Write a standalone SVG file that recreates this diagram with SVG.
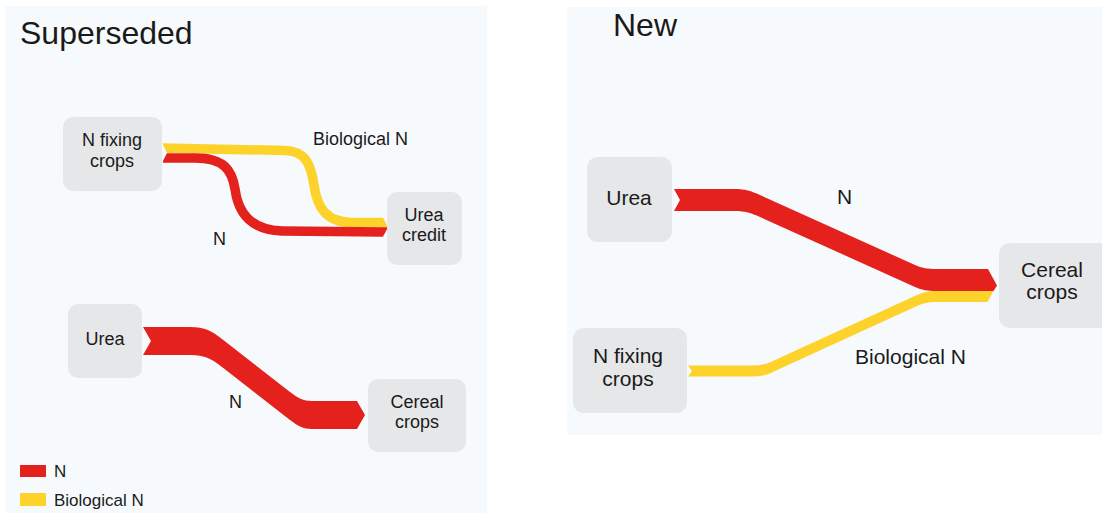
<svg xmlns="http://www.w3.org/2000/svg" width="1102" height="516" viewBox="0 0 1102 516">
<style>
.panel{fill:#f7fafc}
.node{fill:#e6e7e8}
.t{font-family:"Liberation Sans",Arial,sans-serif;fill:#1a1a1a}
.s{font-size:18px}
.m{font-size:21px}
.title{font-size:32px}
.red{fill:#e4211d}
.yel{fill:#fdd22b}
.rs{fill:none;stroke:#e4211d;stroke-width:9.5}
.ys{fill:none;stroke:#fdd22b;stroke-width:9.5}
.bg{fill:#f7fafc}
</style>
<rect width="1102" height="516" fill="#ffffff"/>
<rect class="panel" x="5" y="6" width="482" height="507"/>
<rect class="panel" x="567" y="7" width="535" height="428"/>
<text class="t title" x="20" y="44">Superseded</text>
<text class="t title" x="613" y="36">New</text>

<g id="connectors">
  <!-- left top -->
  <path class="ys" d="M163,148 L285,150.5 C306,151 311,165 314,185 C317,207 326,222.5 352,222.5 L383,222.5"/>
  <path class="rs" d="M163,158 L195,158 C224,158 232,170 235,189 C238,212 250,230 282,231 L383,232"/>
  <polygon class="bg" points="162,143 167,153 162,163"/>
  <polygon class="yel" points="383,217.8 388,227.3 383,227.3"/>
  <polygon class="red" points="383,227.3 388,227.3 383,236.8"/>
  <!-- left bottom -->
  <path class="red" d="M143,327 H190 C205,327 212,331 222,339 L290,392 C298,398 303,401 312,401 H357 L365,415 L357,429 H312 C303,429 298,426 290,420 L222,367 C212,359 205,355 190,355 H143 L151,341 Z"/>
  <!-- right -->
  <path class="red" d="M674,189 H735 C745,189 751,191 760,195 L915,265 C922,268 927,269 937,269 H988 L997,285.5 L993.5,291 H937 C927,291 922,290 915,287 L760,217 C751,213 745,211 735,211 H674 L680,200 Z"/>
  <path class="yel" d="M688,365.5 H752 C762,365.5 767,364 775,360 L917,295 C924,292 928,291 937,291 H993.5 L987.5,302 H937 C928,302 924,303 917,306 L775,371 C767,375 762,376.5 752,376.5 H688 L692,371 Z"/>
</g>

<g id="labels">
  <text class="t s" x="313" y="145">Biological N</text>
  <text class="t s" x="213" y="245">N</text>
  <text class="t s" x="229" y="408">N</text>
  <text class="t m" x="837" y="204">N</text>
  <text class="t m" x="855" y="364">Biological N</text>
</g>

<g id="node-nfix-old">
  <rect class="node" x="63" y="117" width="99" height="74" rx="10"/>
  <text class="t s" x="112" y="146" text-anchor="middle">N fixing</text>
  <text class="t s" x="112" y="167" text-anchor="middle">crops</text>
</g>
<g id="node-ureacredit">
  <rect class="node" x="387" y="192" width="75" height="73" rx="10"/>
  <text class="t s" x="424" y="221" text-anchor="middle">Urea</text>
  <text class="t s" x="424" y="241" text-anchor="middle">credit</text>
</g>
<g id="node-urea-old">
  <rect class="node" x="68" y="304" width="74" height="74" rx="10"/>
  <text class="t s" x="105" y="345" text-anchor="middle">Urea</text>
</g>
<g id="node-cereal-old">
  <rect class="node" x="368" y="379" width="98" height="73" rx="10"/>
  <text class="t s" x="417" y="408" text-anchor="middle">Cereal</text>
  <text class="t s" x="417" y="428" text-anchor="middle">crops</text>
</g>
<g id="node-urea-new">
  <rect class="node" x="587" y="157" width="85" height="85" rx="11"/>
  <text class="t m" x="629" y="205" text-anchor="middle">Urea</text>
</g>
<g id="node-nfix-new">
  <rect class="node" x="573" y="328" width="114" height="85" rx="11"/>
  <text class="t m" x="628" y="363" text-anchor="middle">N fixing</text>
  <text class="t m" x="628" y="386" text-anchor="middle">crops</text>
</g>
<g id="node-cereal-new">
  <rect class="node" x="999" y="243" width="120" height="85" rx="11"/>
  <text class="t m" x="1052" y="277" text-anchor="middle">Cereal</text>
  <text class="t m" x="1052" y="299" text-anchor="middle">crops</text>
</g>

<g id="legend">
  <rect class="red" x="20" y="465" width="26" height="12"/>
  <text class="t" font-size="17" x="54" y="477">N</text>
  <rect class="yel" x="20" y="493" width="26" height="13"/>
  <text class="t" font-size="17" x="54" y="506">Biological N</text>
</g>
</svg>
